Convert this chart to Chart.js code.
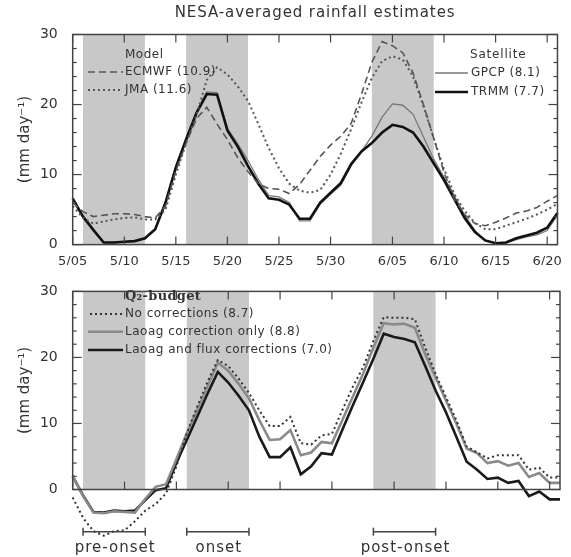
<!DOCTYPE html>
<html><head><meta charset="utf-8">
<script src="https://cdn.jsdelivr.net/npm/chart.js@4.4.0/dist/chart.umd.min.js"></script>
<style>
html,body{margin:0;padding:0;background:#fff;}
#wrap{position:relative;width:571px;height:557px;overflow:hidden;background:#fff;}
#c1{position:absolute;left:0;top:0;width:571px;height:268px;}
#c2{position:absolute;left:0;top:268px;width:571px;height:289px;}
</style></head><body>
<div id="wrap"><canvas id="c1" width="571" height="268"></canvas><canvas id="c2" width="571" height="289"></canvas></div>
<script>
// ---------- data ----------
const dates = ['5/05','5/06','5/07','5/08','5/09','5/10','5/11','5/12','5/13','5/14','5/15','5/16','5/17','5/18','5/19','5/20','5/21','5/22','5/23','5/24','5/25','5/26','5/27','5/28','5/29','5/30','5/31','6/01','6/02','6/03','6/04','6/05','6/06','6/07','6/08','6/09','6/10','6/11','6/12','6/13','6/14','6/15','6/16','6/17','6/18','6/19','6/20','6/21'];
const tickLabels = ['5/05','5/10','5/15','5/20','5/25','5/30','6/05','6/10','6/15','6/20'];
const yTicks = [0,10,20,30];
const bandStart = ['5/06','5/16','6/03'];
const bandEnd   = ['5/12','5/22','6/09'];
const bandLabels = ['pre-onset','onset','post-onset'];

// top panel (model / satellite)
const ecmwf = [6.0,4.7,4.0,4.2,4.4,4.4,4.3,4.0,3.8,5.5,10.5,14.5,18.0,19.6,17.2,15.0,12.4,10.4,8.7,8.0,7.9,7.3,8.6,10.6,12.6,14.2,15.5,17.3,21.5,26.0,29.0,28.4,27.4,24.5,20.0,15.2,10.3,6.5,4.3,3.0,2.7,3.2,3.8,4.5,4.8,5.3,6.2,7.0];
const jma   = [5.5,3.8,3.0,3.3,3.6,3.8,3.9,3.6,3.6,5.0,10.0,14.5,18.5,23.5,25.3,24.3,22.6,20.5,17.2,13.8,10.9,8.7,7.7,7.4,7.8,10.0,13.0,16.5,20.3,23.8,26.2,26.9,26.4,24.0,19.8,15.2,10.8,7.2,4.8,3.1,2.2,2.2,2.7,3.2,3.7,4.3,5.0,5.8];
const gpcp  = [6.3,3.8,2.0,0.3,0.3,0.4,0.5,0.8,2.1,6.2,11.3,15.3,19.0,21.8,21.7,16.6,14.4,12.0,9.3,7.0,6.8,6.0,3.4,3.4,5.8,7.2,8.5,11.3,13.3,15.5,18.2,20.1,19.9,18.6,15.4,12.2,9.6,7.0,4.2,2.0,0.5,0.2,0.2,0.7,1.1,1.4,2.0,4.2];
const trmm  = [6.6,4.0,2.1,0.3,0.3,0.4,0.5,0.9,2.2,6.0,11.0,15.0,18.8,21.5,21.4,16.3,14.0,11.2,8.7,6.6,6.4,5.7,3.7,3.7,6.0,7.4,8.8,11.5,13.3,14.5,16.0,17.1,16.8,16.0,14.0,11.6,9.2,6.5,3.8,1.8,0.6,0.2,0.3,0.9,1.3,1.7,2.4,4.5];

// bottom panel (Q2-budget)
const noCorr   = [-1.2,-4.3,-6.3,-7.0,-6.3,-6.2,-4.8,-3.2,-2.2,-0.6,3.5,8.5,12.5,16.3,19.6,18.7,16.8,14.6,12.0,9.6,9.6,11.0,7.0,6.8,8.2,8.4,12.0,15.5,18.5,22.5,26.1,26.0,26.0,25.8,21.5,17.5,14.0,10.5,6.5,5.6,4.7,5.2,5.2,5.2,3.0,3.3,1.8,1.8];
const laoagOnly= [2.1,-1.0,-3.5,-3.6,-3.3,-3.4,-3.5,-1.4,0.4,0.8,4.6,8.5,12.0,15.6,19.2,18.0,16.0,13.8,10.5,7.5,7.6,9.0,5.2,5.6,7.2,7.0,10.5,14.0,17.5,21.5,25.2,25.0,25.1,24.5,20.5,17.0,13.5,10.0,6.2,5.5,4.0,4.3,3.6,4.0,1.9,2.5,1.0,1.0];
const laoagFlux= [2.0,-0.9,-3.4,-3.5,-3.2,-3.3,-3.2,-1.6,-0.1,0.2,4.0,7.5,11.0,14.5,17.8,16.2,14.2,12.0,8.0,4.9,4.9,6.4,2.3,3.5,5.5,5.3,9.0,12.7,16.2,19.8,23.6,23.1,22.8,22.3,18.7,15.0,11.7,8.0,4.2,3.0,1.6,1.8,1.0,1.3,-1.0,-0.3,-1.5,-1.5];

// ---------- styles ----------
const FONT = 'DejaVu Sans';
Chart.defaults.font.family = FONT;
Chart.defaults.color = '#333';
const ST = {
  ecmwf:{color:'#555', width:1.6, dash:[7,4]},
  jma:{color:'#555', width:2, dash:[2,3]},
  gpcp:{color:'#777', width:1.3, dash:[]},
  trmm:{color:'#111', width:2.6, dash:[]},
  noCorr:{color:'#333', width:2, dash:[2,3]},
  laoagOnly:{color:'#8a8a8a', width:2.6, dash:[]},
  laoagFlux:{color:'#1a1a1a', width:2.6, dash:[]}
};

function seg(ctx,x0,y0,x1,y1){ctx.beginPath();ctx.moveTo(x0,y0);ctx.lineTo(x1,y1);ctx.stroke();}

const panel = {
  id:'panel',
  beforeDatasetsDraw(chart){
    const {ctx, chartArea:a} = chart; const x = chart.scales.x;
    ctx.save(); ctx.fillStyle = '#c8c8c8';
    bandStart.forEach((s,i)=>{
      const x0 = x.getPixelForValue(dates.indexOf(s));
      const x1 = x.getPixelForValue(dates.indexOf(bandEnd[i]));
      ctx.fillRect(x0, a.top, x1-x0, a.bottom-a.top);
    });
    ctx.restore();
  },
  afterDraw(chart, args, o){
    const {ctx, chartArea:a} = chart; const x = chart.scales.x, y = chart.scales.y;
    ctx.save();
    ctx.setLineDash([]);
    ctx.strokeStyle = '#444'; ctx.lineWidth = 1.5;
    ctx.strokeRect(a.left, a.top, a.right-a.left, a.bottom-a.top);
    ctx.lineWidth = 1.2;
    for (let v = y.min; v <= y.max; v += 2){
      const py = y.getPixelForValue(v); const L = (v % 10 === 0) ? 9 : 4;
      seg(ctx, a.left, py, a.left+L, py); seg(ctx, a.right, py, a.right-L, py);
    }
    tickLabels.forEach(t=>{
      const px = x.getPixelForValue(dates.indexOf(t));
      seg(ctx, px, a.top, px, a.top+8); seg(ctx, px, a.bottom, px, a.bottom-8);
    });
    // title
    if (o.title){
      ctx.fillStyle = '#333'; ctx.font = '15px "DejaVu Sans"';
      ctx.letterSpacing = '0.9px';
      ctx.textAlign = 'center'; ctx.textBaseline = 'middle';
      ctx.fillText(o.title, (a.left+a.right)/2, 13.5);
      ctx.letterSpacing = '0px';
    }
    // legends
    (o.headers||[]).forEach(h=>{
      ctx.fillStyle = '#333'; ctx.font = h.font; ctx.textAlign='left'; ctx.textBaseline='middle';
      ctx.letterSpacing = h.ls || '0px';
      ctx.fillText(h.text, h.x, h.y);
      ctx.letterSpacing = '0px';
    });
    (o.entries||[]).forEach(e=>{
      const s = ST[e.key];
      ctx.strokeStyle = s.color; ctx.lineWidth = s.width; ctx.setLineDash(s.dash);
      seg(ctx, e.x0, e.y, e.x1, e.y);
      ctx.setLineDash([]);
      ctx.fillStyle = '#333'; ctx.font = '12px "DejaVu Sans"'; ctx.textAlign='left'; ctx.textBaseline='middle';
      ctx.letterSpacing = '0.5px';
      ctx.fillText(e.text, e.tx, e.y);
      ctx.letterSpacing = '0px';
    });
    // period annotations
    if (o.periods){
      ctx.strokeStyle = '#444'; ctx.lineWidth = 1.5; ctx.setLineDash([]);
      bandStart.forEach((s,i)=>{
        const x0 = x.getPixelForValue(dates.indexOf(s));
        const x1 = x.getPixelForValue(dates.indexOf(bandEnd[i]));
        const by = o.periods.barY;
        seg(ctx, x0, by, x1, by); seg(ctx, x0, by-4, x0, by+4); seg(ctx, x1, by-4, x1, by+4);
        ctx.fillStyle = '#333'; ctx.font = '15px "DejaVu Sans"'; ctx.textAlign='center'; ctx.textBaseline='middle';
        ctx.letterSpacing = '1px';
        ctx.fillText(bandLabels[i], (x0+x1)/2 + 1, o.periods.labelY);
        ctx.letterSpacing = '0px';
      });
    }
    ctx.restore();
  }
};

function ds(label, data, key){
  const s = ST[key];
  return {label, data, borderColor:s.color, borderWidth:s.width, borderDash:s.dash, pointRadius:0, tension:0, fill:false, clip:false};
}

function yScale(){
  return {
    min:0, max:30,
    afterBuildTicks: s => { s.ticks = yTicks.map(v=>({value:v})); },
    ticks:{padding:15, color:'#333', font:{family:FONT,size:14}},
    grid:{display:false, drawTicks:false}, border:{display:false},
    title:{display:true, text:'(mm day⁻¹)', color:'#333', font:{family:FONT,size:15}, padding:{top:16,bottom:0}},
    afterFit: s => { s.width = 72.7; }
  };
}

new Chart(document.getElementById('c1'), {
  type:'line',
  data:{labels:dates, datasets:[
    ds('ECMWF (10.9)', ecmwf, 'ecmwf'),
    ds('JMA (11.6)', jma, 'jma'),
    ds('TRMM (7.7)', trmm, 'trmm'),
    ds('GPCP (8.1)', gpcp, 'gpcp')
  ]},
  options:{
    responsive:false, animation:false, devicePixelRatio:1,
    layout:{padding:{top:34.5, right:11, left:0, bottom:0}},
    plugins:{legend:{display:false}, tooltip:{enabled:false},
      panel:{
        title:'NESA-averaged rainfall estimates',
        headers:[{text:'Model', x:125, y:55, font:'12px "DejaVu Sans"', ls:'0.5px'},
                 {text:'Satellite', x:470, y:55, font:'12px "DejaVu Sans"', ls:'0.8px'}],
        entries:[
          {key:'ecmwf', text:'ECMWF (10.9)', x0:88, x1:123, tx:125, y:72},
          {key:'jma', text:'JMA (11.6)', x0:88, x1:123, tx:125, y:90},
          {key:'gpcp', text:'GPCP (8.1)', x0:435, x1:468, tx:471, y:73},
          {key:'trmm', text:'TRMM (7.7)', x0:435, x1:468, tx:471, y:92}
        ]
      }
    },
    scales:{
      x:{type:'category', offset:false,
        grid:{display:false, drawTicks:false}, border:{display:false},
        ticks:{autoSkip:false, maxRotation:0, padding:9, color:'#333', font:{family:FONT,size:13},
          callback:(v,i)=> tickLabels.includes(dates[i]) ? dates[i] : null},
        afterFit: s => { s.height = 20.5; }
      },
      y:yScale()
    }
  },
  plugins:[panel]
});

new Chart(document.getElementById('c2'), {
  type:'line',
  data:{labels:dates, datasets:[
    ds('No corrections (8.7)', noCorr, 'noCorr'),
    ds('Laoag correction only (8.8)', laoagOnly, 'laoagOnly'),
    ds('Laoag and flux corrections (7.0)', laoagFlux, 'laoagFlux')
  ]},
  options:{
    responsive:false, animation:false, devicePixelRatio:1,
    layout:{padding:{top:9.5, right:11, left:0, bottom:67.5}},
    plugins:{legend:{display:false}, tooltip:{enabled:false},
      panel:{
        headers:[{text:'Q₂-budget', x:125, y:28.5, font:'bold 13px "DejaVu Serif"', ls:'0.3px'}],
        entries:[
          {key:'noCorr', text:'No corrections (8.7)', x0:90, x1:123, tx:125, y:46},
          {key:'laoagOnly', text:'Laoag correction only (8.8)', x0:88, x1:123, tx:125, y:63.7},
          {key:'laoagFlux', text:'Laoag and flux corrections (7.0)', x0:88, x1:123, tx:125, y:82}
        ],
        periods:{barY:263.7, labelY:280}
      }
    },
    scales:{
      x:{type:'category', offset:false, display:false},
      y:yScale()
    }
  },
  plugins:[panel]
});
</script>
</body></html>
